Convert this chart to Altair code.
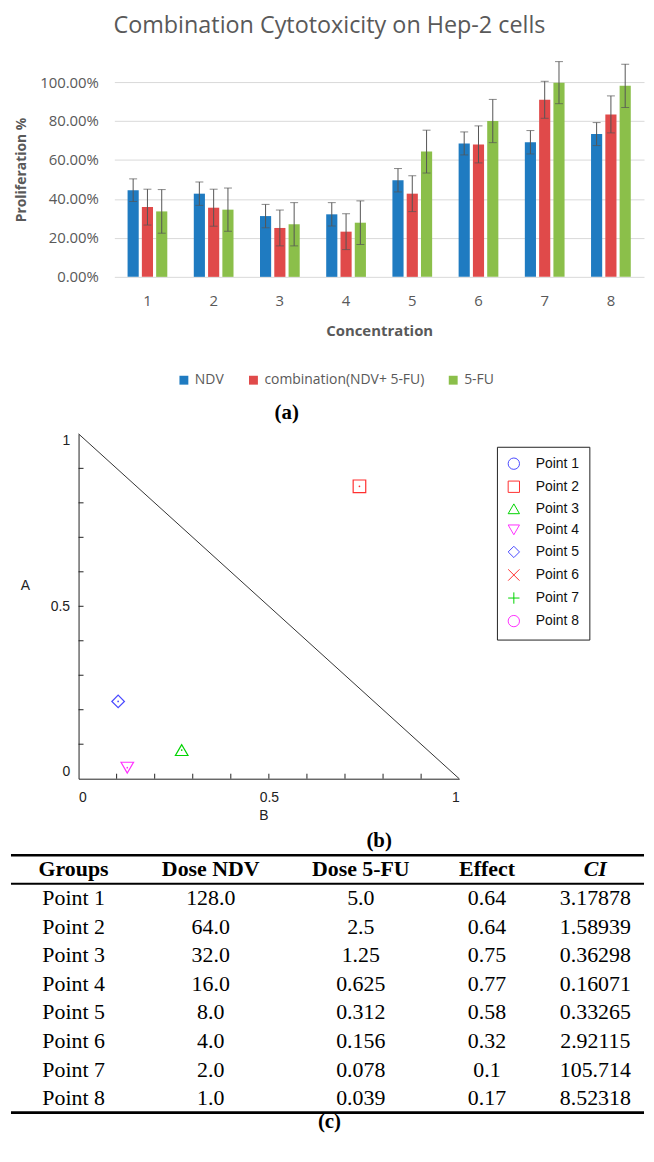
import altair as alt
import pandas as pd

# ---------------- (a) bar chart data ----------------
CONC = ["1", "2", "3", "4", "5", "6", "7", "8"]
SERIES = ["NDV", "combination(NDV+ 5-FU)", "5-FU"]
SERIES_COLORS = ["#1f7bc1", "#e04a4a", "#8bbf4a"]
NDV = [44.5, 42.7, 31.2, 32.1, 49.6, 68.5, 69.1, 73.3]
NDV_ERR = [5.8, 6.0, 6.0, 6.0, 6.0, 5.9, 6.0, 5.9]
COMB = [35.8, 35.5, 25.1, 23.2, 42.7, 68.0, 90.9, 83.4]
COMB_ERR = [9.2, 9.5, 9.2, 9.2, 9.2, 9.5, 9.5, 9.5]
FU = [33.6, 34.5, 27.0, 27.8, 64.3, 80.0, 99.7, 98.1]
FU_ERR = [11.2, 11.1, 11.1, 11.2, 11.0, 11.1, 10.8, 11.1]
Y_TICKS = [0.0, 0.2, 0.4, 0.6, 0.8, 1.0]

# ---------------- (b) isobologram data ----------------
GROUPS = ["Point 1", "Point 2", "Point 3", "Point 4", "Point 5", "Point 6", "Point 7", "Point 8"]
POINT_COLORS = ["#4a4aff", "#ff3030", "#00d400", "#ff30ff", "#4a4aff", "#ff3030", "#00d400", "#ff30ff"]
POINT_SHAPES = ["circle", "square", "triangle-up", "triangle-down", "diamond",
                "M-1,-1L1,1M1,-1L-1,1", "M-1,0L1,0M0,-1L0,1", "circle"]
PT_GROUP = ["Point 2", "Point 3", "Point 4", "Point 5"]
PT_B = [0.738, 0.271, 0.128, 0.104]
PT_A = [0.848, 0.083, 0.032, 0.224]
LINE_B = [0.0, 1.0]
LINE_A = [1.0, 0.0]
MINOR_TICKS = [0.1, 0.2, 0.3, 0.4, 0.5, 0.6, 0.7, 0.8, 0.9]

# ---------------- (c) table data ----------------
COLUMNS = ["Groups", "Dose NDV", "Dose 5-FU", "Effect", "CI"]
GROUP_COL = ["Point 1", "Point 2", "Point 3", "Point 4", "Point 5", "Point 6", "Point 7", "Point 8"]
DOSE_NDV = ["128.0", "64.0", "32.0", "16.0", "8.0", "4.0", "2.0", "1.0"]
DOSE_FU = ["5.0", "2.5", "1.25", "0.625", "0.312", "0.156", "0.078", "0.039"]
EFFECT = ["0.64", "0.64", "0.75", "0.77", "0.58", "0.32", "0.1", "0.17"]
CI = ["3.17878", "1.58939", "0.36298", "0.16071", "0.33265", "2.92115", "105.714", "8.52318"]

SANS = "Open Sans"
ARIAL = "Liberation Sans"
SERIF = "Liberation Serif"
GRAY = "#595959"
INK = "#222222"
NBSP_PAD = "\u00a0" * 12

# ================= (a) =================
rows = []
for s, vals, errs in zip(SERIES, [NDV, COMB, FU], [NDV_ERR, COMB_ERR, FU_ERR]):
    for c, v, e in zip(CONC, vals, errs):
        rows.append({"Concentration": c, "Series": s, "Value": v / 100,
                     "Lo": (v - e) / 100, "Hi": (v + e) / 100})
bar_df = pd.DataFrame(rows)

x_enc = alt.X("Concentration:N", sort=CONC,
              scale=alt.Scale(paddingInner=0.4, paddingOuter=0.2),
              axis=alt.Axis(title="Concentration", labelAngle=0, domain=False, ticks=False,
                            labelPadding=17, labelFont=SANS, labelFontSize=15, labelColor=GRAY,
                            titleFont=SANS, titleFontSize=15, titleFontWeight="bold",
                            titleColor=GRAY, titleY=54, titleBaseline="middle"))
xo_enc = alt.XOffset("Series:N", sort=SERIES, scale=alt.Scale(paddingInner=0.22))
y_scale = alt.Scale(domain=[0, 1], nice=False)
y_axis = alt.Axis(values=Y_TICKS, format=".2%", domain=False, ticks=False, labelPadding=16,
                  labelOverlap=False, labelFont=SANS, labelFontSize=15, labelColor=GRAY,
                  gridColor="#d9d9d9", gridWidth=1,
                  titleFont=SANS, titleFontSize=14, titleFontWeight="bold", titleColor=GRAY,
                  titleX=-86, titleY=88)

base = alt.Chart(bar_df)
bars = base.mark_bar().encode(
    x=x_enc, xOffset=xo_enc,
    y=alt.Y("Value:Q", scale=y_scale, axis=y_axis, title="Proliferation %"),
    color=alt.Color("Series:N", sort=SERIES,
                    scale=alt.Scale(domain=SERIES, range=SERIES_COLORS),
                    legend=alt.Legend(orient="none", legendX=55, legendY=285, padding=8,
                                      direction="horizontal", title=None, symbolType="square",
                                      symbolSize=80, symbolStrokeWidth=0, labelFont=SANS,
                                      labelFontSize=14, labelColor=GRAY, columnPadding=22,
                                      labelOffset=4, labelLimit=400)),
)
err = base.mark_rule(color="#555555", strokeWidth=1).encode(
    x=x_enc, xOffset=xo_enc,
    y=alt.Y("Lo:Q", scale=y_scale, axis=y_axis, title="Proliferation %"), y2="Hi:Q")
cap_hi = base.mark_tick(color="#555555", thickness=1, size=8).encode(
    x=x_enc, xOffset=xo_enc,
    y=alt.Y("Hi:Q", scale=y_scale, axis=y_axis, title="Proliferation %"))
cap_lo = base.mark_tick(color="#555555", thickness=1, size=8).encode(
    x=x_enc, xOffset=xo_enc,
    y=alt.Y("Lo:Q", scale=y_scale, axis=y_axis, title="Proliferation %"))

bar_chart = alt.layer(bars, err, cap_hi, cap_lo).properties(
    width=533, height=196,
    title=alt.TitleParams("Combination Cytotoxicity on Hep-2 cells", font=SANS, fontSize=23.5,
                          fontWeight="normal", color=GRAY, anchor="middle", frame="bounds",
                          offset=23.5),
)

# ================= (b) =================
pt_df = pd.DataFrame({"Group": PT_GROUP, "B": PT_B, "A": PT_A})
line_df = pd.DataFrame({"B": LINE_B, "A": LINE_A})
xt_df = pd.DataFrame({"B": MINOR_TICKS})
yt_df = pd.DataFrame({"A": MINOR_TICKS})

sc_x = alt.X("B:Q", scale=alt.Scale(domain=[0, 1], nice=False, range=[-36, 347]),
             axis=alt.Axis(values=[0, 0.5, 1], format="~g", ticks=False, grid=False,
                           domainColor=INK, labelPadding=12, labelFont=ARIAL,
                           labelFontSize=14, labelColor=INK, title="B", titleFont=ARIAL,
                           titleFontSize=14, titleFontWeight="normal", titleColor=INK,
                           titleX=150, titleY=37, titleBaseline="middle"))
sc_y = alt.Y("A:Q", scale=alt.Scale(domain=[0, 1], nice=False),
             axis=alt.Axis(values=[0, 0.5, 1], format="~g", ticks=False, grid=False, offset=36,
                           labelFlush=True, domainColor=INK, labelPadding=9,
                           labelFont=ARIAL, labelFontSize=14, labelColor=INK,
                           title="A", titleAngle=0, titleAlign="center", titleBaseline="middle",
                           titleX=-54, titleY=153, titleFont=ARIAL, titleFontSize=14,
                           titleFontWeight="normal", titleColor=INK))

sc_legend = alt.Legend(orient="none", legendX=385, legendY=13, title=None,
                       strokeColor=INK, fillColor="white", padding=10, rowPadding=7.2,
                       symbolSize=130, symbolStrokeWidth=1, labelFont=ARIAL, labelFontSize=14,
                       labelColor="#111111", labelOffset=15,
                       labelExpr="datum.label + '" + NBSP_PAD + "'")
color_enc = alt.Color("Group:N", scale=alt.Scale(domain=GROUPS, range=POINT_COLORS),
                      legend=sc_legend)
shape_enc = alt.Shape("Group:N", scale=alt.Scale(domain=GROUPS, range=POINT_SHAPES),
                      legend=sc_legend)

iso_line = alt.Chart(line_df).mark_line(color="#333333", strokeWidth=1).encode(x=sc_x, y=sc_y)
x_ticks = alt.Chart(xt_df).mark_rule(color=INK, y2Offset=-5).encode(
    x=sc_x, y=alt.datum(0), y2=alt.datum(0))
y_ticks = alt.Chart(yt_df).mark_rule(color=INK, x2Offset=5).encode(
    y=sc_y, x=alt.datum(0), x2=alt.datum(0))
pts = alt.Chart(pt_df).mark_point(filled=False, size=160, strokeWidth=1.2, opacity=1).encode(
    x=sc_x, y=sc_y, color=color_enc, shape=shape_enc)
dots = alt.Chart(pt_df).mark_circle(size=3, opacity=1, strokeWidth=0).encode(
    x=sc_x, y=sc_y,
    fill=alt.Fill("Group:N", scale=alt.Scale(domain=GROUPS, range=POINT_COLORS), legend=None))

scatter_panel = alt.layer(iso_line, x_ticks, y_ticks, pts, dots).properties(
    width=347, height=347,
    title=alt.TitleParams("(a)", orient="top", font=SERIF, fontSize=21, fontWeight="bold",
                          color="black", anchor="middle", offset=9),
)

# ================= (c) =================
cells = []
for i, g in enumerate(GROUP_COL):
    for j, col_vals in enumerate([GROUP_COL, DOSE_NDV, DOSE_FU, EFFECT, CI]):
        cells.append({"row": g, "col": j, "text": col_vals[i]})
cell_df = pd.DataFrame(cells)
head_df = pd.DataFrame({"row": [COLUMNS[0]] * len(COLUMNS),
                        "col": list(range(len(COLUMNS))), "text": COLUMNS})
ROW_DOMAIN = [COLUMNS[0]] + GROUP_COL

t_x = alt.X("col:Q", scale=alt.Scale(domain=[0, 1, 2, 3, 4], range=[-41, 97, 248, 375, 484]),
            axis=alt.Axis(labels=False, ticks=False, domain=False, grid=False, title="(c)",
                          titleX=216, titleY=9, titleBaseline="middle", titleFont=SERIF,
                          titleFontSize=21, titleFontWeight="bold", titleColor="black"))
t_y_scale = alt.Scale(domain=ROW_DOMAIN, paddingInner=0, paddingOuter=0)
t_y = alt.Y("row:N", scale=t_y_scale, axis=None)

cell_text = alt.Chart(cell_df).mark_text(font=SERIF, fontSize=22, color="black",
                                         baseline="middle").encode(x=t_x, y=t_y, text="text:N")
head_text = alt.Chart(head_df).transform_filter("datum.col < 4").mark_text(
    font=SERIF, fontSize=22, fontWeight="bold", color="black", baseline="middle").encode(
    x=t_x, y=t_y, text="text:N")
head_ci = alt.Chart(head_df).transform_filter("datum.col == 4").mark_text(
    font=SERIF, fontSize=22, fontWeight="bold", fontStyle="italic", color="black",
    baseline="middle").encode(x=t_x, y=t_y, text="text:N")

top_df = pd.DataFrame({"row": [COLUMNS[0]]})
bot_df = pd.DataFrame({"row": [GROUP_COL[-1]]})
rule_top = alt.Chart(top_df).mark_rule(color="black", strokeWidth=2.6).encode(
    y=alt.Y("row:N", scale=t_y_scale, axis=None, bandPosition=0),
    x=alt.value(-104), x2=alt.value("width"))
rule_mid = alt.Chart(top_df).mark_rule(color="black", strokeWidth=2).encode(
    y=alt.Y("row:N", scale=t_y_scale, axis=None, bandPosition=1),
    x=alt.value(-104), x2=alt.value("width"))
rule_bot = alt.Chart(bot_df).mark_rule(color="black", strokeWidth=2.6).encode(
    y=alt.Y("row:N", scale=t_y_scale, axis=None, bandPosition=1),
    x=alt.value(-104), x2=alt.value("width"))

table_panel = alt.layer(head_text, head_ci, cell_text, rule_top, rule_mid, rule_bot).properties(
    width=533, height=259,
    title=alt.TitleParams("(b)", orient="top", font=SERIF, fontSize=21, fontWeight="bold",
                          color="black", anchor="middle", offset=3),
)

chart = alt.vconcat(bar_chart, scatter_panel, table_panel, spacing=7).properties(
    padding={"left": 1, "top": 2, "right": 0, "bottom": 0},
    background="white",
).configure_view(strokeWidth=0).resolve_scale(color="independent", shape="independent")

chart.save("out.html", embed_options={"renderer": "svg", "actions": False})
